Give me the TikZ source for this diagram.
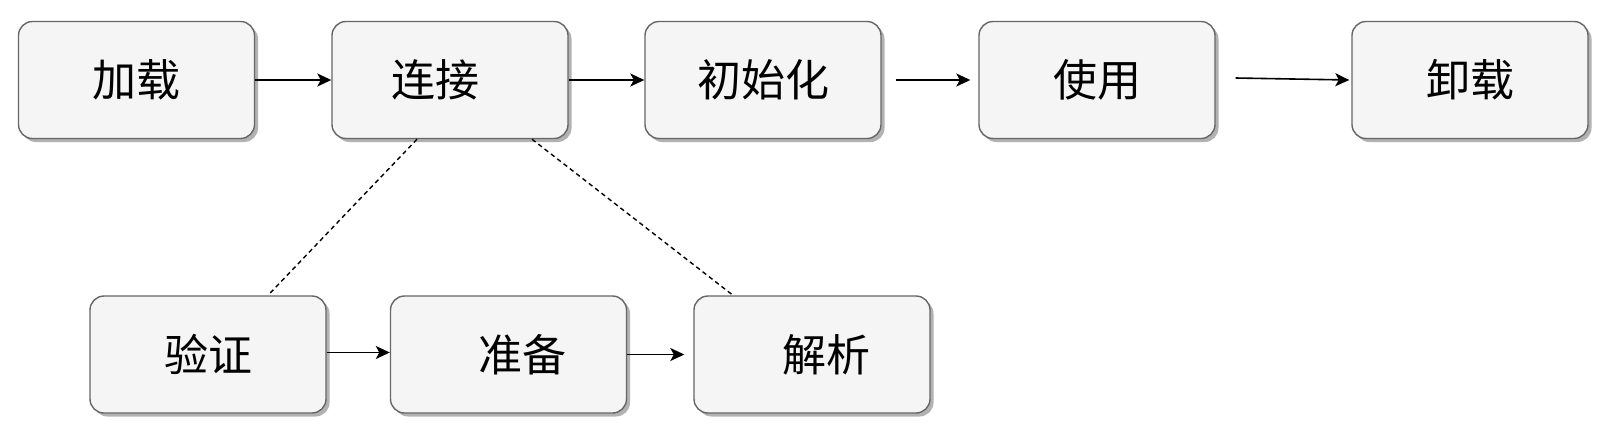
\documentclass[tikz,border=0pt]{standalone}
\usepackage{fontspec}
\newfontfamily\cjk{Noto Sans CJK SC}
\usepackage{tikz}
\usetikzlibrary{arrows.meta,shadows}

\begin{document}
\begin{tikzpicture}[x=1pt, y=-1pt,
  stage/.style={draw=black!60, line width=1.4pt, fill=black!4, rounded corners=14pt,
    minimum width=236pt, minimum height=117pt, inner sep=0pt,
    font=\cjk\fontsize{44}{50}\selectfont,
    drop shadow={shadow xshift=3.5pt, shadow yshift=-3.5pt, fill=black!30, opacity=1}},
  flow/.style={-{Stealth[length=14pt, width=13pt, inset=3.5pt]}, line width=1.6pt},
  link/.style={dash pattern=on 4.5pt off 3.5pt, line width=1.4pt}]
  % bounding rectangle
  \useasboundingbox (0,0) rectangle (1611,437);

  % top row: the phases
  \node[stage] (load)   at (136.5,80) {加载};
  \node[stage] (link)   at (450,80)   {连接\hspace*{30pt}};
  \node[stage] (init)   at (763,80)   {初始化};
  \node[stage] (use)    at (1097,80)  {使用};
  \node[stage] (unload) at (1470,80)  {卸载};

  % bottom row: the steps of linking
  \node[stage] (verify)  at (208,354.5)   {验证};
  \node[stage] (prepare) at (508.5,354.5) {\hspace*{28pt}准备};
  \node[stage] (resolve) at (812,354.5)   {\hspace*{28pt}解析};

  % arrows
  \draw[flow] (load) -- (link);
  \draw[flow] (link) -- (init);
  \draw[flow] ([xshift=14pt]init.east) -- ([xshift=-8pt]use.west);
  \draw[flow] ([xshift=20pt,yshift=2pt]use.east) -- ([xshift=-2pt]unload.west);
  \draw[flow] ([yshift=2pt]verify.east) -- ([yshift=2pt]prepare.west);
  \draw[flow] (prepare) -- ([xshift=-9pt]resolve.west);

  % dashed links from linking
  \draw[link] ([xshift=-33pt]link.south) -- ([xshift=60pt]verify.north);
  \draw[link] ([xshift=82pt]link.south) -- ([xshift=-79pt]resolve.north);
\end{tikzpicture}
\end{document}
